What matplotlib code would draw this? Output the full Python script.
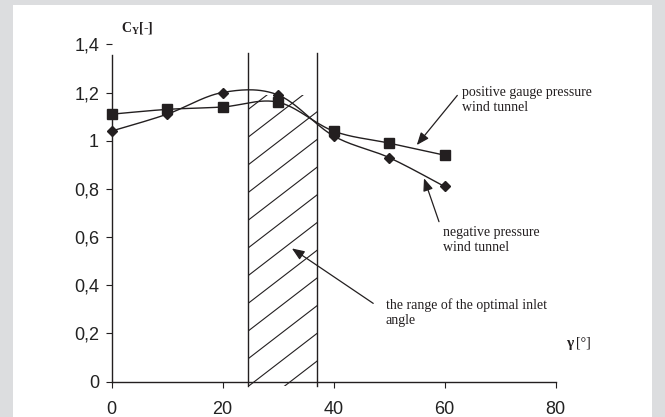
import numpy as np
import matplotlib
matplotlib.use("Agg")
import matplotlib.pyplot as plt
from matplotlib.patches import Rectangle

plt.rcParams['mathtext.fontset'] = 'custom'
plt.rcParams['mathtext.rm'] = 'Liberation Serif'
plt.rcParams['mathtext.bf'] = 'Liberation Serif:bold'

# data
angle = [0, 10, 20, 30, 40, 50, 60]
cy_positive = [1.11, 1.13, 1.14, 1.16, 1.04, 0.99, 0.94]
cy_negative = [1.04, 1.11, 1.20, 1.19, 1.02, 0.93, 0.81]
optimal_range = [24.6, 37.1]
hatch_top = 1.19
xticks = [0, 20, 40, 60, 80]
yticks = [0, 0.2, 0.4, 0.6, 0.8, 1.0, 1.2, 1.4]
ytick_labels = ["0", "0,2", "0,4", "0,6", "0,8", "1", "1,2", "1,4"]

INK = '#231f20'


def smooth(xs, ys, n=30):
    # Excel-like smoothed line (Catmull-Rom as cubic Bezier)
    p = np.column_stack([xs, ys]).astype(float)
    ext = np.vstack([p[0], p, p[-1]])
    out = []
    t = np.linspace(0, 1, n)[:, None]
    for i in range(len(p) - 1):
        p0, p3 = ext[i + 1], ext[i + 2]
        c1 = p0 + (ext[i + 2] - ext[i]) / 6
        c2 = p3 - (ext[i + 3] - ext[i + 1]) / 6
        seg = ((1 - t) ** 3) * p0 + 3 * ((1 - t) ** 2) * t * c1 + 3 * (1 - t) * t ** 2 * c2 + t ** 3 * p3
        out.append(seg)
    out = np.vstack(out)
    return out[:, 0], out[:, 1]


fig = plt.figure(figsize=(6.65, 4.17), dpi=100)
fig.patch.set_facecolor('#dcdddf')
fig.patches.append(Rectangle((0.019, 0.0), 0.961, 0.989, transform=fig.transFigure,
                             facecolor='white', edgecolor='none', zorder=-10))

ax = fig.add_axes([0.1677, 0.0847, 0.6677, 0.809])
ax.set_xlim(0, 80)
ax.set_ylim(0, 1.4)
ax.patch.set_alpha(0)

# optimal inlet angle band
band = Rectangle((optimal_range[0], -0.02), optimal_range[1] - optimal_range[0], hatch_top + 0.02,
                 transform=ax.transData, facecolor='none', edgecolor='none')
ax.add_patch(band)
slope = 0.77 * (1.4 / 337.4) / (80 / 444)
spacing = 27.7 * 1.4 / 337.4
hx = np.array(optimal_range)
for k in range(-6, 14):
    y0 = -0.02 + k * spacing
    ln, = ax.plot(hx, y0 + slope * (hx - hx[0]), color=INK, lw=0.8, clip_on=True)
    ln.set_clip_path(band)
for xv in optimal_range:
    ax.plot([xv, xv], [-0.02, 1.362], color=INK, lw=1.0, clip_on=False)

# curves
sx, sy = smooth(angle, cy_positive)
ax.plot(sx, sy, color=INK, lw=1.0)
ax.plot(angle, cy_positive, 's', color=INK, ms=6.5, clip_on=False)
nx, ny = smooth(angle, cy_negative)
ax.plot(nx, ny, color=INK, lw=1.0)
ax.plot(angle, cy_negative, 'D', color=INK, ms=5.5, clip_on=False)

# axes styling
for s in ['top', 'right']:
    ax.spines[s].set_visible(False)
ax.spines['left'].set_bounds(0, 1.355)
ax.spines['bottom'].set_bounds(0, 80)
for s in ['left', 'bottom']:
    ax.spines[s].set_color(INK)
    ax.spines[s].set_linewidth(1.0)
ax.set_xticks(xticks)
ax.set_yticks(yticks)
ax.set_yticklabels(ytick_labels)
ax.tick_params(axis='both', direction='out', length=4, width=0.8, color=INK,
               labelsize=13, labelcolor='#222222')
ax.tick_params(axis='x', pad=10)
ax.tick_params(axis='y', pad=5)
for lab in ax.get_xticklabels() + ax.get_yticklabels():
    lab.set_family('Liberation Sans')

# annotations
serif = dict(family='Liberation Serif', fontsize=10, color=INK, linespacing=1.2)
arrow = dict(arrowstyle='-|>,head_length=0.5,head_width=0.2', color=INK, lw=0.9,
             mutation_scale=15, shrinkA=0, shrinkB=0)
ax.annotate('', xy=(55.0, 0.982), xytext=(62.3, 1.188), arrowprops=arrow)
ax.text(63.2, 1.167, 'positive gauge pressure\nwind tunnel', va='center', ha='left', **serif)
ax.annotate('', xy=(56.3, 0.844), xytext=(59.0, 0.664), arrowprops=arrow)
ax.text(59.7, 0.589, 'negative pressure\nwind tunnel', va='center', ha='left', **serif)
ax.annotate('', xy=(32.5, 0.553), xytext=(47.15, 0.325), arrowprops=arrow)
ax.text(49.4, 0.287, 'the range of the optimal inlet\nangle', va='center', ha='left', **serif)

ax.text(81.9, 0.16, 'γ', va='center', ha='left', clip_on=False,
        family='Liberation Serif', fontweight='bold', fontsize=11, color=INK)
ax.annotate('[°]', xy=(81.9, 0.16), xytext=(7, 0), textcoords='offset points',
            va='center', ha='left', annotation_clip=False,
            family='Liberation Serif', fontsize=10, color=INK)
ax.text(1.7, 1.467, r'$\mathbf{C_Y}$[-]', va='center', ha='left', clip_on=False,
        family='Liberation Serif', fontweight='bold', fontsize=10, color=INK)

fig.savefig('out.png', dpi=100, facecolor=fig.get_facecolor())
